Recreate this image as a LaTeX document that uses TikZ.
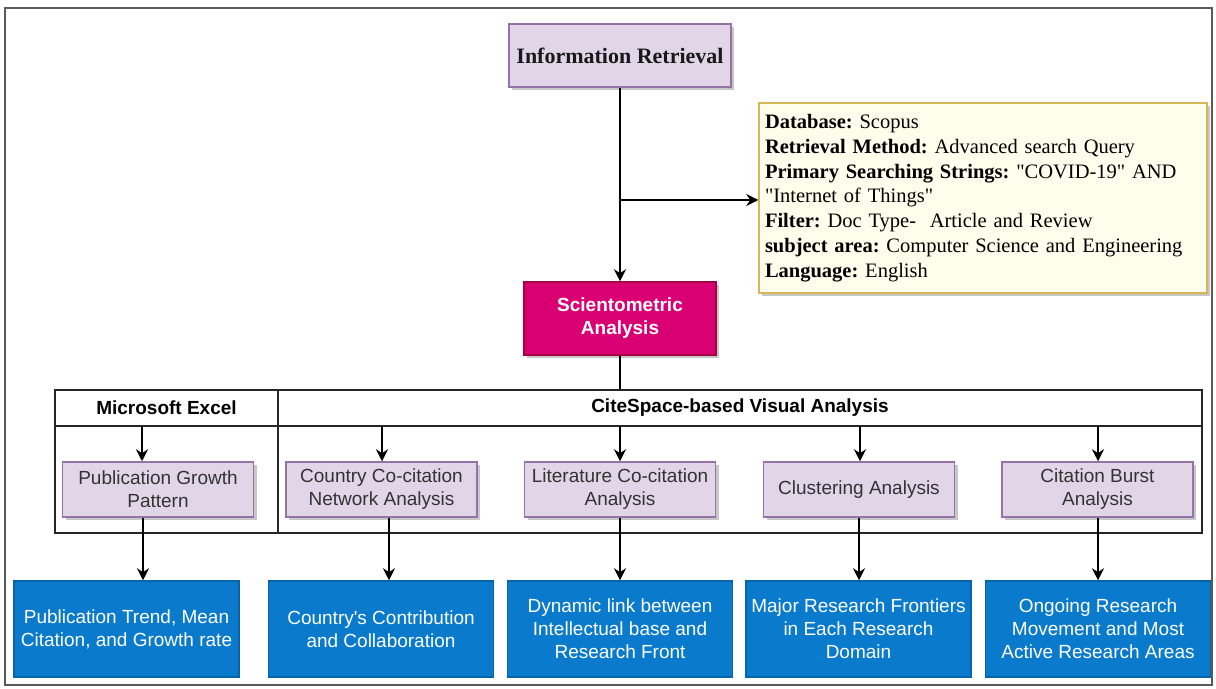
\documentclass[tikz,border=0pt]{standalone}
\usepackage{fontspec}
\setmainfont{Liberation Serif}
\setsansfont{Liberation Sans}
\usetikzlibrary{arrows.meta,shadows}
\frenchspacing
\definecolor{lavfill}{RGB}{225,213,231}
\definecolor{lavdraw}{RGB}{150,115,166}
\definecolor{magfill}{RGB}{216,0,115}
\definecolor{magdraw}{RGB}{165,0,64}
\definecolor{bluefill}{RGB}{10,122,204}
\definecolor{bluedraw}{RGB}{6,100,170}
\definecolor{notefill}{RGB}{255,253,236}
\definecolor{notedraw}{RGB}{214,182,86}
\definecolor{textgray}{RGB}{51,51,51}
\definecolor{framegray}{RGB}{90,90,90}
\tikzset{
  box/.style={draw, line width=0.75pt, align=center, inner sep=2pt},
  shade/.style={drop shadow={shadow xshift=1.5pt, shadow yshift=-1.5pt, fill=black, opacity=0.22}},
  irbox/.style={box, shade, fill=lavfill, draw=lavdraw, text=black!90,
    minimum width=111pt, minimum height=31.5pt, font=\bfseries\fontsize{11}{13}\selectfont},
  sabox/.style={box, shade, fill=magfill, draw=magdraw, text=white,
    minimum width=96pt, minimum height=36.5pt, font=\sffamily\bfseries\fontsize{9.5}{11.5}\selectfont},
  notebox/.style={box, shade, fill=notefill, draw=notedraw, align=left, inner xsep=3pt,
    text width=218pt, minimum height=95pt, font=\fontsize{10.25}{12.4}\selectfont},
  cell/.style={draw=black!85, line width=0.75pt, inner sep=0pt, font=\sffamily\bfseries\fontsize{9.5}{11.5}\selectfont},
  lavbox/.style={box, shade, fill=lavfill, draw=lavdraw, text=textgray,
    minimum width=95.5pt, minimum height=27.5pt, font=\sffamily\fontsize{9.5}{11.5}\selectfont},
  bluebox/.style={box, fill=bluefill, draw=bluedraw, text=white,
    minimum width=112.5pt, minimum height=48pt, font=\sffamily\fontsize{9.5}{11.5}\selectfont},
  arr/.style={-{Stealth[length=6pt,width=6pt]}, line width=0.75pt}
}
\begin{document}
\begin{tikzpicture}[x=0.5pt,y=-0.5pt]
  \useasboundingbox (0,0) rectangle (1216,689);
  \draw[framegray, line width=0.8pt] (5,8) rectangle (1212,685);
  % top part
  \node[irbox] (ir) at (620,55.5) {Information Retrieval};
  \node[sabox] (sa) at (620,318.5) {Scientometric\\Analysis};
  \node[notebox] (info) at (983,198) {%
    \textbf{Database:} Scopus\\
    \textbf{Retrieval Method:} Advanced search Query\\
    \textbf{Primary Searching Strings:} \textquotedbl COVID-19\textquotedbl{} AND\\
    \textquotedbl Internet of Things\textquotedbl\\
    \textbf{Filter:} Doc Type-~ Article and Review\\
    \textbf{subject area:} Computer Science and Engineering\\
    \textbf{Language:} English};
  % table
  \node[cell, minimum width=111.5pt, minimum height=18pt] (excel) at (166.5,408) {Microsoft Excel};
  \node[cell, minimum width=462pt, minimum height=18pt] (cite) at (740,408) {CiteSpace-based Visual Analysis};
  \node[cell, minimum width=111.5pt, minimum height=53.5pt] (excelbody) at (166.5,479.5) {};
  \node[cell, minimum width=462pt, minimum height=53.5pt] (citebody) at (740,479.5) {};
  % methods
  \node[lavbox] (growth) at (158,489.5) {Publication Growth\\Pattern};
  \node[lavbox] (country) at (381.5,489.5) {Country Co-citation\\Network Analysis};
  \node[lavbox] (literature) at (620,489.5) {Literature Co-citation\\Analysis};
  \node[lavbox] (cluster) at (859,489.5) {Clustering Analysis};
  \node[lavbox] (burst) at (1097.5,489.5) {Citation Burst\\Analysis};
  % outcomes
  \node[bluebox] (trend) at (126.5,629) {Publication Trend, Mean\\Citation, and Growth rate};
  \node[bluebox] (contrib) at (381,629) {Country\textquotesingle s Contribution\\and Collaboration};
  \node[bluebox] (dynamic) at (620,629) {Dynamic link between\\Intellectual base and\\Research Front};
  \node[bluebox] (frontier) at (858.5,629) {Major Research Frontiers\\in Each Research\\Domain};
  \node[bluebox] (ongoing) at (1098,629) {Ongoing Research\\Movement and Most\\Active Research Areas};
  \begin{scope}[arr]
    \draw (ir) -- (sa);
    \coordinate (branch) at (620,200);
    \draw (branch) -- (branch -| info.west);
  \end{scope}
  \draw[line width=0.75pt] (sa) -- (sa.south |- cite.north);
  \foreach \i/\xa/\xb/\up/\dn in {1/142/143/growth/trend, 2/382/389/country/contrib,
      3/620/620/literature/dynamic, 4/860/859/cluster/frontier, 5/1098/1098/burst/ongoing}{
    \coordinate (top\i) at (\xa,426);
    \coordinate (bot\i) at (\xb,517);
    \draw[arr] (top\i) -- (top\i |- \up.north);
    \draw[arr] (\up.south -| bot\i) -- (bot\i |- \dn.north);
  }
\end{tikzpicture}
\end{document}
